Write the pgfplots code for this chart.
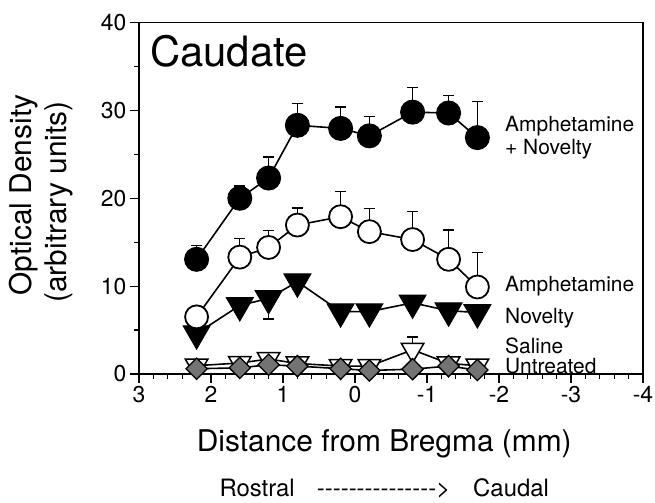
\documentclass[border=0pt]{standalone}
\usepackage{fontspec}
\setmainfont{TeX Gyre Heros}
\usepackage{pgfplots}
\pgfplotsset{compat=1.18}
\usepackage{pgfplotstable}

\pgfplotstableread{
x y e
2.2 13.05 1.55
1.6 20.0 1.4
1.2 22.3 2.4
0.8 28.3 2.5
0.2 27.95 2.45
-0.2 27.1 2.2
-0.8 29.8 2.8
-1.3 29.7 2.0
-1.7 26.9 4.1
}\amphnov

\pgfplotstableread{
x y e
2.2 6.5 0
1.6 13.3 2.1
1.2 14.4 1.9
0.8 16.95 1.95
0.2 17.9 2.9
-0.2 16.2 2.6
-0.8 15.3 3.2
-1.3 13.05 3.35
-1.7 9.9 3.95
}\amph

\pgfplotstableread{
x y e
2.2 4.6 0
1.6 7.8 0
1.2 8.6 2.35
0.8 10.5 0
0.2 7.1 0
-0.2 7.1 0
-0.8 8.1 0
-1.3 7.2 0
-1.7 7.0 0
}\novelty

\pgfplotstableread{
x y e
2.2 0.95 0
1.6 1.25 0
1.2 1.7 0
0.8 1.2 0
0.2 0.9 0
-0.2 0.9 0
-0.8 2.75 1.45
-1.3 1.2 0
-1.7 0.95 0
}\saline

\pgfplotstableread{
x y
2.2 0.6
1.6 0.7
1.2 1.05
0.8 0.9
0.2 0.6
-0.2 0.4
-0.8 0.55
-1.3 0.9
-1.7 0.45
}\untreated

\begin{document}
\begin{tikzpicture}
\path[use as bounding box] (-139bp,-129bp) rectangle (516bp,374bp);
\begin{axis}[
  at={(0,0)}, anchor=south west,
  scale only axis, width=504bp, height=351.5bp,
  xmin=-4, xmax=3, x dir=reverse, ymin=0, ymax=40,
  xtick={-4,-3,-2,-1,0,1,2,3}, xticklabels={-4,-3,-2,-1,0,1,2,3},
  ytick={0,10,20,30,40}, yticklabels={0,10,20,30,40},
  minor x tick num=4, minor y tick num=1,
  tick align=outside, tick pos=left,
  major tick length=9bp, minor tick length=5bp,
  axis line style={line width=1.4bp},
  tick style={black, line width=1.2bp},
  ticklabel style={font=\fontsize{23}{23}\selectfont},
  clip=false,
]
% Saline
\addplot[black, line width=1.6bp, mark=triangle*,
  mark options={rotate=180, fill=white, draw=black, line width=1.5bp},
  mark size=13bp,
  error bars/.cd, y dir=plus, y explicit,
  error mark options={rotate=90, black, line width=1.4bp, mark size=5.5bp},
  error bar style={black, line width=1.4bp}]
  table[x=x, y=y, y error=e] {\saline};
% Untreated
\addplot[black, line width=1.6bp, mark=square*,
  mark options={rotate=45, fill=black!55, draw=black, line width=1.3bp},
  mark size=7.5bp]
  table[x=x, y=y] {\untreated};
% Novelty
\addplot[black, line width=1.6bp, mark=triangle*,
  mark options={rotate=180, fill=black, draw=black, line width=1bp},
  mark size=15.5bp,
  error bars/.cd, y dir=minus, y explicit,
  error mark options={rotate=90, black, line width=1.4bp, mark size=5.5bp},
  error bar style={black, line width=1.4bp}]
  table[x=x, y=y, y error=e] {\novelty};
% Amphetamine
\addplot[black, line width=1.6bp, mark=*,
  mark options={fill=white, draw=black, line width=1.8bp},
  mark size=11.5bp,
  error bars/.cd, y dir=plus, y explicit,
  error mark options={rotate=90, black, line width=1.4bp, mark size=5.5bp},
  error bar style={black, line width=1.4bp}]
  table[x=x, y=y, y error=e] {\amph};
% Amphetamine + Novelty
\addplot[black, line width=1.6bp, mark=*,
  mark options={fill=black, draw=black, line width=1bp},
  mark size=12bp,
  error bars/.cd, y dir=plus, y explicit,
  error mark options={rotate=90, black, line width=1.4bp, mark size=5.5bp},
  error bar style={black, line width=1.4bp}]
  table[x=x, y=y, y error=e] {\amphnov};
\end{axis}
% title inside
\node[anchor=base west, inner sep=0pt, font=\fontsize{42}{42}\selectfont] at (11bp,307.3bp) {Caudate};
% series labels
\begin{scope}[every node/.style={anchor=base west, inner sep=0pt, font=\fontsize{21}{21}\selectfont}]
\node at (366bp,242.3bp) {Amphetamine};
\node at (366bp,219bp) {+ Novelty};
\node at (366bp,82.3bp) {Amphetamine};
\node at (366bp,50.7bp) {Novelty};
\node at (366bp,20.7bp) {Saline};
\node at (366bp,0.7bp) {Untreated};
\end{scope}
% axis labels
\node[anchor=base west, inner sep=0pt, font=\fontsize{30}{30}\selectfont] at (57.7bp,-77bp) {Distance from Bregma (mm)};
\node[rotate=90, anchor=base, inner sep=0pt, font=\fontsize{30}{30}\selectfont] at (-107bp,179bp) {Optical Density};
\node[rotate=90, anchor=base, inner sep=0pt, font=\fontsize{30}{30}\selectfont] at (-72.3bp,172bp) {(arbitrary units)};
% Rostral -> Caudal
\begin{scope}[every node/.style={anchor=base west, inner sep=0pt, font=\fontsize{24}{24}\selectfont}]
\node at (80.3bp,-122.7bp) {Rostral};
\node at (177.7bp,-122.7bp) {-{}-{}-{}-{}-{}-{}-{}-{}-{}-{}-{}-{}-{}-{}-{}>};
\node at (334bp,-122.7bp) {Caudal};
\end{scope}
\end{tikzpicture}
\end{document}
